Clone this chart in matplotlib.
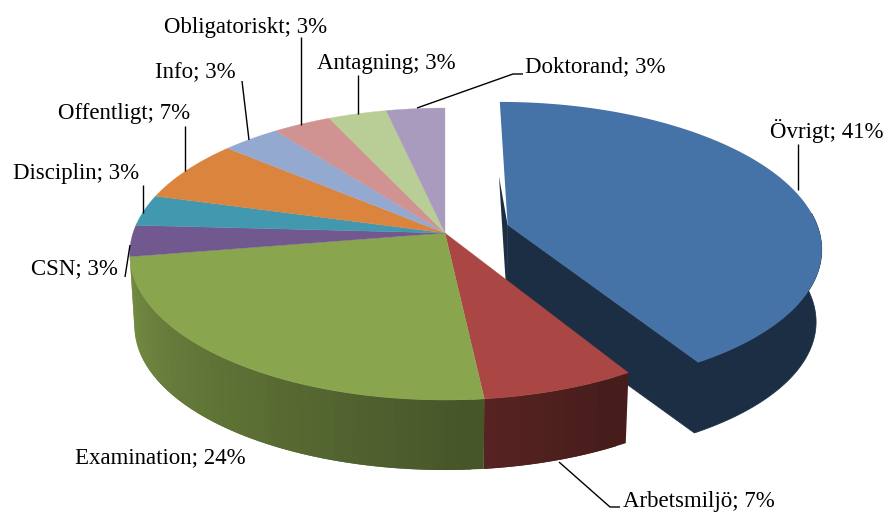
import matplotlib
matplotlib.use("Agg")
import matplotlib.pyplot as plt
import numpy as np

names = ["Övrigt", "Arbetsmiljö", "Examination", "CSN", "Disciplin", "Offentligt",
         "Info", "Obligatoriskt", "Antagning", "Doktorand"]
counts = [12, 2, 7, 1, 1, 2, 1, 1, 1, 1]
colors = ["#4572A7", "#AA4643", "#89A54E", "#71588F", "#4198AF", "#DB843D",
          "#93A9CF", "#D19392", "#B9CD96", "#A99BBD"]

# label centres and leader lines, in pixels
label_pos = [(827, 131), (699, 501), (160, 458), (74, 269), (76, 173), (124, 114),
             (195, 73), (246, 27), (386, 63), (595, 67)]
leaders = [[(798, 144), (798, 190)],
           [(559, 462), (610, 507), (620, 507)],
           None,
           [(125, 277), (130, 245)],
           [(143, 185), (143, 213)],
           [(185, 126), (185, 171)],
           [(242, 81), (249, 140)],
           [(301, 37), (301, 125)],
           [(358, 75), (358, 114)],
           [(417, 108), (513, 74), (523, 74)]]

# view of the pie
cx, cy = 445, 233
R, Ry = 312, 143
p = 0.144
depth = 72.5
k = 0.985
explode = 0.21


def top(u, v):
    s = 1 / (1 - p * v)
    return cx + R * u * s, cy + Ry * v * s


def bottom(u, v):
    x, y = top(u, v)
    return cx + (x - cx) * k, cy + depth + (y - cy) * k


def shade(col, f):
    rgb = np.array(matplotlib.colors.to_rgb(col))
    return tuple(rgb * f)


fig = plt.figure(figsize=(8.88, 5.13), dpi=100)
ax = fig.add_axes([0, 0, 1, 1])
ax.set_xlim(0, 888)
ax.set_ylim(513, 0)
ax.axis("off")

total = sum(counts)
edges = np.cumsum([0] + counts) / total * 360

# exploded slice goes first, everything else sits on top of it
mid = np.radians((edges[0] + edges[1]) / 2)
u0, v0 = explode * np.sin(mid), -explode * np.cos(mid)
a = np.radians(np.linspace(edges[0], edges[1], 120))
us, vs = u0 + np.sin(a), v0 - np.cos(a)
dark = shade(colors[0], 0.4)
low = np.array([bottom(u, v) for u, v in zip(us, vs)])
high = np.array([top(u, v) for u, v in zip(us, vs)])
front = a >= np.radians(85)
apex_t = top(u0, v0)
apex_b = bottom(u0, v0)
# outer wall and cut wall as one shape, no seam at the tip
wall = np.vstack([high[front], [apex_t], [apex_b], low[front][::-1]])
ax.fill(*zip(*wall), color=dark, lw=0.5)
ax.fill(*zip(apex_t, apex_b, low[0]), color=dark, lw=0)
ax.fill(*zip(apex_t, *high), color=colors[0], lw=0)

# side walls of the two front slices, lit from the left
# each strip runs on into the next one so no seams show
for i in [1, 2]:
    a = np.linspace(edges[i], edges[i + 1], counts[i] * 6 + 2)
    for j in range(len(a) - 1, 0, -1):
        a1, a2 = a[j - 1], a[j]
        f = np.interp((a1 + a2) / 2, [147.6, 172.4, 259.3], [0.40, 0.51, 0.86])
        r1, r2 = np.radians(a1), np.radians(a2)
        if j < len(a) - 1:
            r2 = np.radians(a[j + 1])
        pts = [top(np.sin(r1), -np.cos(r1)), top(np.sin(r2), -np.cos(r2)),
               bottom(np.sin(r2), -np.cos(r2)), bottom(np.sin(r1), -np.cos(r1))]
        ax.fill(*zip(*pts), color=shade(colors[i], f), lw=0)

for i in range(1, len(counts)):
    a = np.radians(np.linspace(edges[i], edges[i + 1], 60))
    pts = [top(np.sin(t), -np.cos(t)) for t in a]
    ax.fill(*zip((cx, cy), *pts), color=colors[i], lw=0.2)

for line in leaders:
    if line is not None:
        ax.plot(*zip(*line), color="black", lw=1.0, solid_capstyle="butt")

for name, n, pos in zip(names, counts, label_pos):
    ax.text(pos[0], pos[1], f"{name}; {round(100 * n / total)}%", ha="center", va="center",
            family="Liberation Serif", fontsize=16.5, color="black")

fig.savefig("out.png", dpi=100)
